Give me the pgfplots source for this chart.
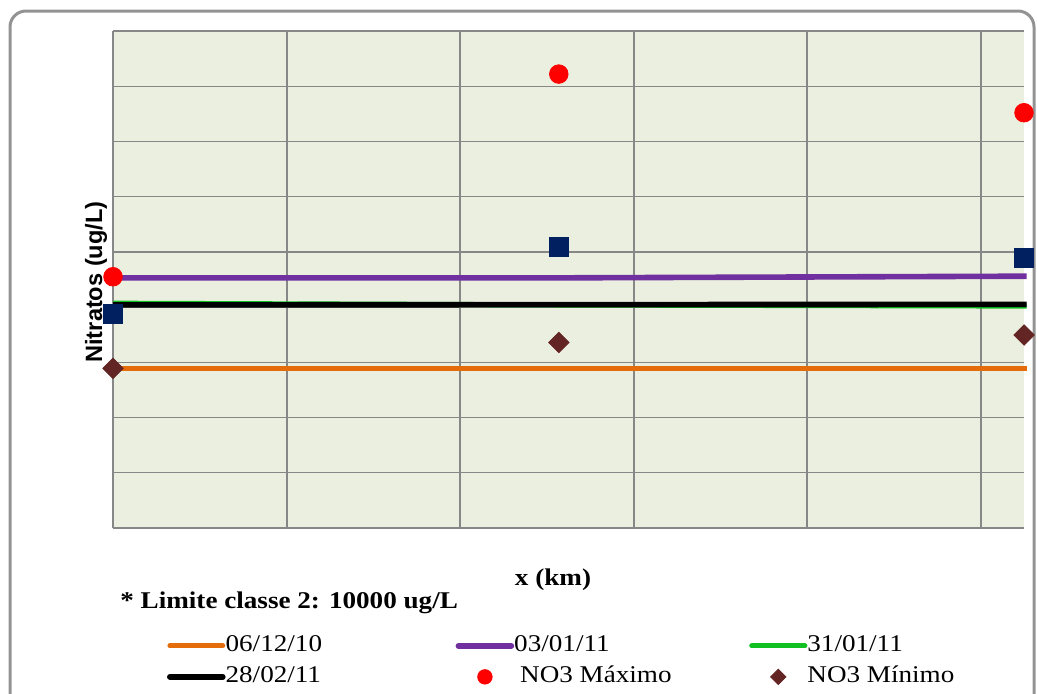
\documentclass[border=0pt]{standalone}
\usepackage{fontspec}
\setmainfont{Liberation Serif}
\newfontfamily\legfont[FakeStretch=1.13]{Liberation Serif}
\newfontfamily\labfont{Liberation Sans}
\usepackage{pgfplots}
\pgfplotsset{compat=1.18}
\definecolor{bgc}{HTML}{EBEFE0}
\definecolor{gridc}{HTML}{878787}
\definecolor{c1}{HTML}{E46C0A}
\definecolor{c2}{HTML}{7030A0}
\definecolor{c3}{HTML}{10C020}
\definecolor{cmax}{HTML}{FF0000}
\definecolor{cmed}{HTML}{002060}
\definecolor{cmin}{HTML}{632523}
\pgfplotsset{markleg/.style={legend image code/.code={\path[draw=none] (0pt,0pt) (26.5pt,0pt); \draw[##1, only marks, every mark/.append style={scale=#1}] plot coordinates {(13.25pt,0pt)};}}}
\begin{document}
\begin{tikzpicture}
\useasboundingbox (0,0) rectangle (518.5pt,346.5pt);
\draw[rounded corners=8pt, line width=1.5pt, color=gray!85] (5pt,-20pt) -- (5pt,341pt) -- (517pt,341pt) -- (517pt,-20pt);
\begin{axis}[
  at={(56.5pt,82.5pt)}, anchor=south west,
  width=455.5pt, height=248.5pt, scale only axis,
  xmin=0, xmax=5.25, ymin=0, ymax=9,
  xtick={0,1,2,3,4,5}, ytick={0,1,2,3,4,5,6,7,8,9},
  xticklabels={}, yticklabels={},
  major tick length=0pt,
  axis line style={draw=none},
  grid=major,
  x grid style={color=gridc, line width=1pt},
  y grid style={color=gridc, line width=0.6pt},
  axis background/.style={fill=bgc},
  clip=false,
  ylabel={Nitratos (ug/L)},
  ylabel style={at={(axis description cs:-0.0187,0.495)}, anchor=center, rotate=0, font=\labfont\bfseries\fontsize{11.8pt}{14pt}\selectfont},
  legend columns=3,
  legend cell align=left,
  legend style={at={(axis description cs:0.0593,-0.213)}, anchor=north west, draw=none, fill=none, inner sep=0pt, outer sep=0pt, column sep=0pt, row sep=3.5pt, font=\legfont\fontsize{12pt}{14pt}\selectfont, nodes={inner sep=0pt, text height=9pt, text depth=3pt}},
  legend image code/.code={\draw[#1, line cap=round] (0pt,0pt) -- (26.5pt,0pt);},
]
\addplot[c1, line width=2.4pt] coordinates {(0,2.89) (2.569,2.89) (5.265,2.89)};
\addlegendentry{\makebox[115pt][l]{06/12/10}}
\addplot[c2, line width=2.8pt] coordinates {(0,4.53) (2.569,4.53) (5.265,4.56)};
\addlegendentry{\makebox[117.5pt][l]{03/01/11}}
\addplot[c3, line width=2.6pt] coordinates {(0,4.07) (2.569,4.04) (5.265,4.02)};
\addlegendentry{31/01/11}
\addplot[black, line width=2.8pt] coordinates {(0,4.04) (2.569,4.045) (5.265,4.05)};
\addlegendentry{28/02/11}
\addplot[only marks, mark=square*, mark size=4.75pt, color=cmed, forget plot] coordinates {(0,3.875) (2.569,5.094) (5.25,4.90)};
\addplot[only marks, mark=*, mark size=4.65pt, color=cmax, markleg=0.78]
  coordinates {(0,4.55) (2.569,8.22) (5.25,7.52)};
\addlegendentry{\hspace{3pt}NO3 Máximo}
\addplot[only marks, mark=square*, mark size=3.6pt, color=cmin, mark options={rotate=45}, markleg=0.75]
  coordinates {(0,2.89) (2.569,3.36) (5.25,3.495)};
\addlegendentry{NO3 Mínimo}
\node[anchor=center, inner sep=0pt, font=\legfont\bfseries\fontsize{12pt}{14pt}\selectfont] at (axis description cs:0.483,-0.1046) {x (km)};
\node[anchor=west, inner sep=0pt, font=\legfont\bfseries\fontsize{12pt}{14pt}\selectfont] at (axis description cs:0.0077,-0.151) {* Limite classe 2: 10000 ug/L};
\end{axis}
\end{tikzpicture}
\end{document}
